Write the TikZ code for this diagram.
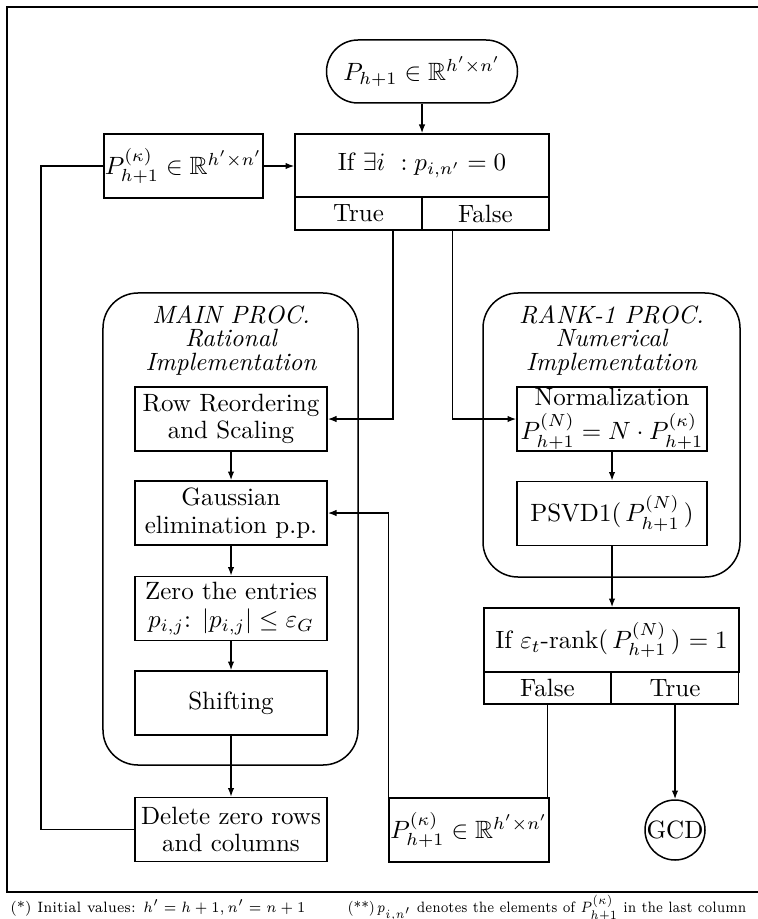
\documentclass[tikz,border=0pt]{standalone}
\usepackage{amssymb}
\usetikzlibrary{arrows.meta,shapes.misc}
\begin{document}
\begin{tikzpicture}[x=0.4pt,y=-0.4pt,
  every node/.style={font=\fontsize{10}{11}\selectfont},
  ln/.style={line width=0.6pt},
  box/.style={draw, line width=0.6pt, align=center, inner sep=0pt, minimum width=76.8pt, minimum height=25.6pt},
  cell/.style={draw, line width=0.6pt, inner sep=0pt, minimum width=50.8pt, minimum height=13pt},
  cont/.style={draw, line width=0.6pt, rounded corners=14pt, inner sep=0pt},
  arr/.style={-{Latex[length=3.5pt,width=2.6pt]}, line width=0.6pt},
  lbl/.style={align=center, inner sep=0pt, font=\itshape\fontsize{10}{9.4}\selectfont},
  fn/.style={font=\fontsize{6}{7}\selectfont, anchor=west, inner sep=0pt}
]
\useasboundingbox (0,0) rectangle (758,919);
\draw[ln] (758,7) -- (7,7) -- (7,892) -- (758,892);

% containers
\node[cont, minimum width=102pt, minimum height=188.8pt] (mainc) at (230.5,529) {};
\node[lbl] (mainl) at (231,340) {MAIN PROC.\\Rational\\Implementation};
\node[cont, minimum width=102.8pt, minimum height=113.6pt] (rankc) at (611.5,435) {};
\node[lbl] (rankl) at (611.5,340) {RANK-1 PROC.\\Numerical\\Implementation};

% top
\node[draw, line width=0.6pt, rounded rectangle, inner sep=0pt, minimum width=76.4pt, minimum height=25.2pt] (start) at (422,71.5) {$P_{h+1}\in\mathbb{R}^{h'\times n'}$};
\node[box, minimum width=101.6pt, minimum height=25.2pt] (c1) at (422,165.5) {If $\exists i\ : p_{i,n'}=0$};
\node[cell] (c1t) at (358.5,213.5) {True};
\node[cell] (c1f) at (485.5,213.5) {False};
\node[box, minimum width=63.6pt] (k1) at (183.5,166) {$P^{(\kappa)}_{h+1}\in\mathbb{R}^{h'\times n'}$};

% main proc boxes
\node[box] (rr) at (231,419) {Row Reordering\\and Scaling};
\node[box] (ge) at (231,513) {Gaussian\\elimination p.p.};
\node[box] (ze) at (231,608.5) {Zero the entries\\$p_{i,j}$: $|p_{i,j}|\le\varepsilon_G$};
\node[box] (sh) at (231,703) {Shifting};
\node[box] (del) at (231,829.5) {Delete zero rows\\and columns};

% rank-1 boxes
\node[box, minimum width=76pt] (norm) at (612,419) {Normalization\\[2.5pt]$P^{(N)}_{h+1}=N\cdot P^{(\kappa)}_{h+1}$};
\node[box, minimum width=76pt] (psvd) at (612,513.5) {PSVD1(\,$P^{(N)}_{h+1}$\,)};
\node[box, minimum width=102pt] (c2) at (611.5,640) {If $\varepsilon_t$-rank(\,$P^{(N)}_{h+1}$\,) $=1$};
\node[cell, minimum height=12.8pt] (c2f) at (547.5,688) {False};
\node[cell, minimum height=12.8pt] (c2t) at (675,688) {True};
\node[box, minimum width=64pt] (k2) at (469,830) {$P^{(\kappa)}_{h+1}\in\mathbb{R}^{h'\times n'}$};
\node[draw, line width=0.6pt, circle, inner sep=0pt, minimum size=24pt] (gcd) at (675,830) {GCD};

% connectors
\draw[arr] (start.south) -- (c1.north);
\draw[arr] (k1.east) -- (k1.east -| c1.west);
\draw[arr] ([xshift=-12pt]c1t.south east) |- (rr.east);
\draw[arr] ([xshift=12.4pt]c1f.south west) |- (norm.west);
\draw[arr] (rr.south) -- (ge.north);
\draw[arr] (ge.south) -- (ze.north);
\draw[arr] (ze.south) -- (sh.north);
\draw[arr] (sh.south) -- (del.north);
\draw[arr] (norm.south) -- (psvd.north);
\draw[arr] (psvd.south) -- (psvd.south |- c2.north);
\draw[ln] (c2f.south) -- (c2f.south |- k2.north);
\draw[arr] (c2t.south) -- (gcd.north);
\draw[arr] (k2.north west) |- (ge.east);
\coordinate (lp) at (41,829.5);
\draw[ln] (del.west) -- (del.west -| lp) |- (k1.west);

% footnotes
\node[fn] (fn1) at (10,908) {\scalebox{0.9}[1]{(*) Initial values: $h'=h+1, n'=n+1$}};
\node[fn] (fn2) at (347,908) {\scalebox{0.84}[1]{(**)\,$p_{i,n'}$ denotes the elements of $P^{(\kappa)}_{h+1}$ in the last column}};
\end{tikzpicture}
\end{document}
